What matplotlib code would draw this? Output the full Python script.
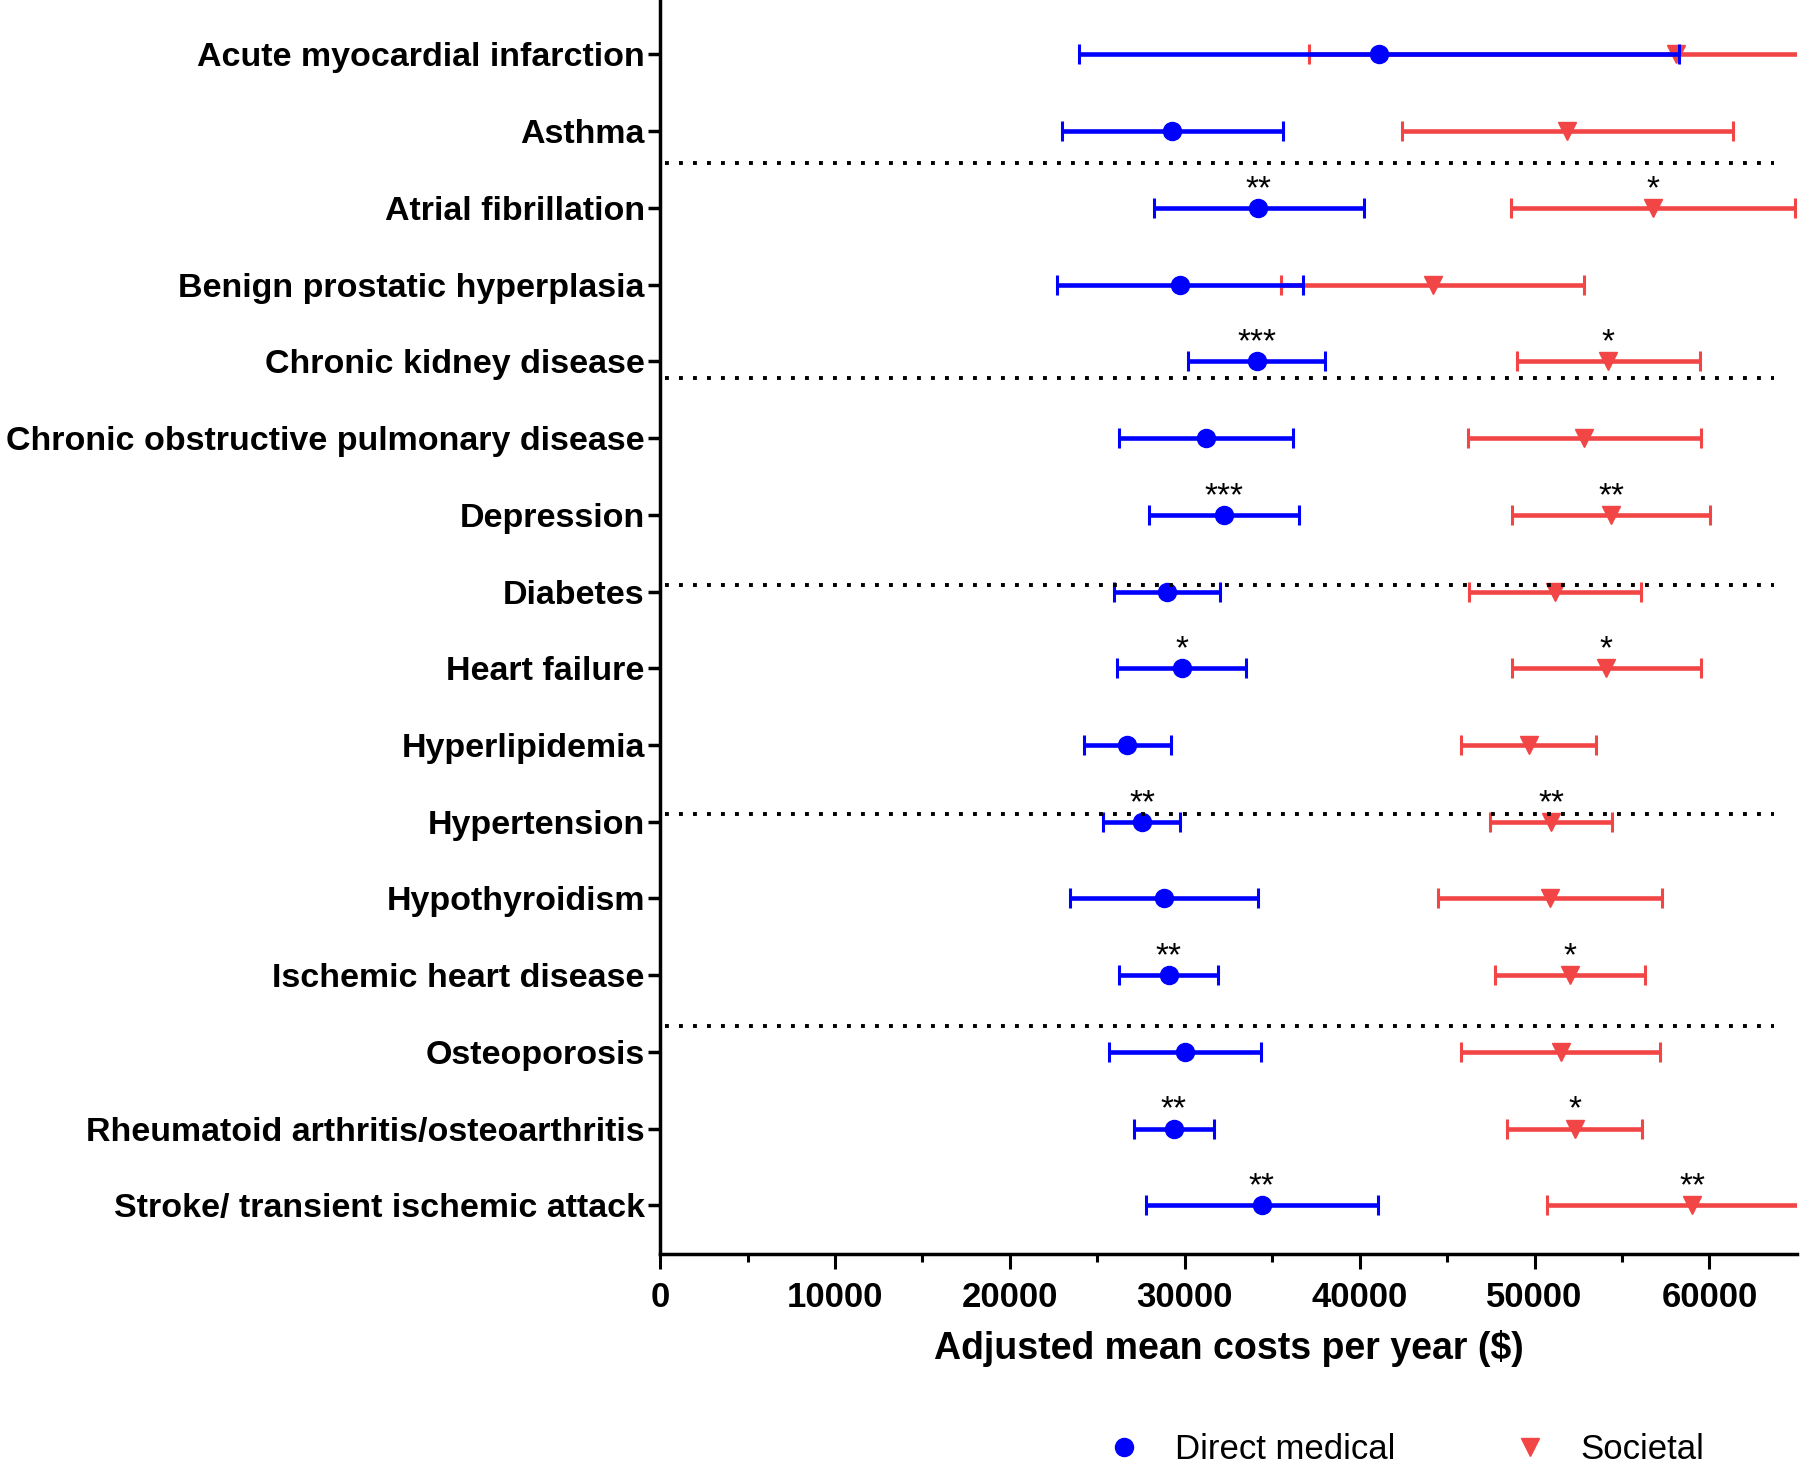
import numpy as np
import matplotlib
matplotlib.use('Agg')
import matplotlib.pyplot as plt
from matplotlib.lines import Line2D

plt.rcParams['font.family'] = ['Liberation Sans', 'DejaVu Sans']

conditions = ['Acute myocardial infarction', 'Asthma', 'Atrial fibrillation',
              'Benign prostatic hyperplasia', 'Chronic kidney disease',
              'Chronic obstructive pulmonary disease', 'Depression', 'Diabetes',
              'Heart failure', 'Hyperlipidemia', 'Hypertension', 'Hypothyroidism',
              'Ischemic heart disease', 'Osteoporosis',
              'Rheumatoid arthritis/osteoarthritis', 'Stroke/ transient ischemic attack']

# direct medical costs: mean, lower, upper
direct_mean = [41100, 29250, 34190, 29750, 34110, 31220, 32220, 29000,
               29830, 26690, 27570, 28820, 29080, 30040, 29370, 34400]
direct_lo = [23970, 22960, 28240, 22710, 30170, 26230, 27940, 25980,
             26150, 24220, 25310, 23420, 26230, 25680, 27070, 27780]
direct_hi = [58270, 35610, 40220, 36740, 38040, 36200, 36530, 32010,
             33480, 29200, 29750, 34190, 31880, 34360, 31670, 41020]

# societal costs: mean, lower, upper
soc_mean = [58060, 51860, 56760, 44200, 54170, 52830, 54370, 51190,
            54080, 49690, 50940, 50860, 52030, 51490, 52290, 59020]
soc_lo = [37120, 42440, 48680, 35530, 48970, 46210, 48720, 46250,
          48720, 45790, 47460, 44500, 47760, 45790, 48430, 50690]
soc_hi = [76000, 61370, 64900, 52830, 59450, 59490, 60030, 56090,
          59490, 53540, 54420, 57260, 56340, 57180, 56130, 72000]

direct_sig = ['', '', '**', '', '***', '', '***', '', '*', '', '**', '', '**', '', '**', '**']
soc_sig = ['', '', '*', '', '*', '', '**', '', '*', '', '**', '', '*', '', '*', '**']

sep_rows = [1.41, 4.22, 6.91, 9.9, 12.66]

blue = '#0000FF'
red = '#F24545'

fig = plt.figure(figsize=(18, 14.7), dpi=100)
ax = fig.add_axes([0.3667, 0.1467, 0.6316, 0.8533])

y = np.arange(len(conditions))

dm = np.array(direct_mean)
sm = np.array(soc_mean)
ax.errorbar(sm, y, xerr=[sm - np.array(soc_lo), np.array(soc_hi) - sm],
            fmt='v', color=red, ms=13, elinewidth=3.3, capsize=7.5, capthick=2.2,
            zorder=3)
ax.errorbar(dm, y, xerr=[dm - np.array(direct_lo), np.array(direct_hi) - dm],
            fmt='o', color=blue, ms=13, elinewidth=3.3, capsize=7.5, capthick=2.2,
            zorder=4)

for i in range(len(conditions)):
    if direct_sig[i]:
        ax.annotate(direct_sig[i], (dm[i], y[i]), xytext=(0, 2), textcoords='offset points',
                    ha='center', va='bottom', fontsize=24)
    if soc_sig[i]:
        ax.annotate(soc_sig[i], (sm[i], y[i]), xytext=(0, 2), textcoords='offset points',
                    ha='center', va='bottom', fontsize=24)

for s in sep_rows:
    ax.plot([300, 63700], [s, s], color='black', lw=2.8, linestyle=(0, (1, 2.6)), zorder=5)

ax.set_xlim(0, 65000)
ax.set_ylim(15.64, -0.71)
ax.set_yticks(y)
ax.set_yticklabels(conditions, fontsize=24.5, fontweight='bold')
ax.set_xticks(np.arange(0, 60001, 10000))
ax.set_xticks(np.arange(5000, 65000, 10000), minor=True)
ax.tick_params(axis='x', labelsize=25, length=11, width=2.2, pad=8)
ax.tick_params(axis='x', which='minor', length=6, width=2.2)
ax.tick_params(axis='y', length=9, width=2.5, pad=2)
for lab in ax.get_xticklabels():
    lab.set_fontweight('bold')
ax.set_xlabel('Adjusted mean costs per year ($)', fontsize=27, fontweight='bold', labelpad=12)

ax.spines['top'].set_visible(False)
ax.spines['right'].set_visible(False)
ax.spines['left'].set_linewidth(2.5)
ax.spines['bottom'].set_linewidth(2.5)

handles = [Line2D([], [], marker='o', color=blue, ls='none', ms=13),
           Line2D([], [], marker='v', color=red, ls='none', ms=13)]
fig.legend(handles, ['Direct medical', 'Societal'], loc='center',
           bbox_to_anchor=(0.781, 0.014), ncol=2, frameon=False, fontsize=25,
           handlelength=1, handletextpad=0.95, columnspacing=3.4, borderpad=0.1)

fig.savefig('out.png', dpi=100)
